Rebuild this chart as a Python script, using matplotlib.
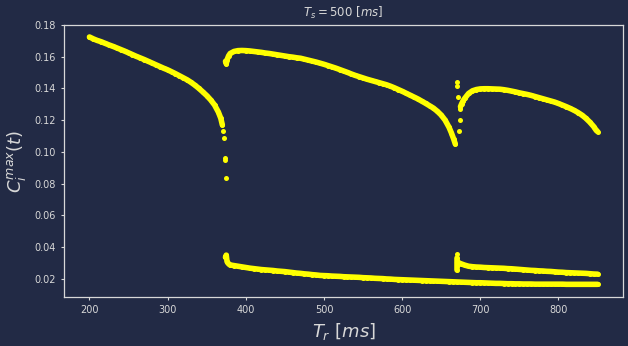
import numpy as np
import matplotlib
matplotlib.use('Agg')
import matplotlib.pyplot as plt

# upper branch before the first jump
tr_a = [200, 205, 210, 215, 220, 225, 230, 235, 240, 245, 250, 255, 260, 265,
        270, 275, 280, 285, 290, 295, 300, 305, 310, 315, 320, 325, 330, 335,
        340, 345, 350, 355, 360, 365, 368, 370, 371, 372, 373, 374, 374.5]
c_a = [0.1724, 0.1712, 0.1702, 0.1694, 0.1684, 0.1674, 0.1665, 0.1655, 0.1645,
       0.1635, 0.1624, 0.1613, 0.1602, 0.1592, 0.1582, 0.1571, 0.1560, 0.1549,
       0.1538, 0.1527, 0.1517, 0.1505, 0.1493, 0.1480, 0.1467, 0.1454, 0.1438,
       0.1420, 0.1400, 0.1378, 0.1355, 0.1328, 0.1296, 0.1250, 0.1212, 0.1170,
       0.1132, 0.1090, 0.0950, 0.0960, 0.0834]

# upper branch between the jumps
tr_b = [374, 375, 376, 378] + list(np.arange(380, 661, 5)) + [663, 666, 668]
c_b = [0.1570, 0.1555, 0.1580, 0.1605,
       0.1620, 0.1633, 0.1638, 0.1639, 0.1638, 0.1636, 0.1633, 0.1630, 0.1627,
       0.1623, 0.1620, 0.1616, 0.1612, 0.1608, 0.1604, 0.1600, 0.1597, 0.1593,
       0.1590, 0.1584, 0.1578, 0.1572, 0.1566, 0.1559, 0.1552, 0.1544, 0.1536,
       0.1528, 0.1519, 0.1510, 0.1501, 0.1491, 0.1482, 0.1474, 0.1466, 0.1458,
       0.1451, 0.1444, 0.1437, 0.1430, 0.1423, 0.1414, 0.1404, 0.1393, 0.1382,
       0.1370, 0.1358, 0.1346, 0.1334, 0.1320, 0.1306, 0.1291, 0.1276, 0.1256,
       0.1232, 0.1200, 0.1155,
       0.1120, 0.1080, 0.1050]

# upper branch after the second jump
tr_c = [669.9, 669.9, 671, 672.5, 673.7, 673.7, 674.6, 676, 678, 680, 685, 690,
        695, 700, 705, 710, 715, 720, 725, 730, 735, 740, 745, 750, 755, 760,
        765, 770, 775, 780, 785, 790, 795, 800, 805, 810, 815, 820, 825, 830,
        835, 840, 845, 848, 850]
c_c = [0.1443, 0.1416, 0.1348, 0.1130, 0.1202, 0.1269, 0.1285, 0.1302, 0.1322,
       0.1337, 0.1368, 0.1385, 0.1393, 0.1397, 0.1398, 0.1398, 0.1397, 0.1396,
       0.1395, 0.1392, 0.1388, 0.1383, 0.1378, 0.1372, 0.1367, 0.1362, 0.1356,
       0.1349, 0.1342, 0.1335, 0.1328, 0.1321, 0.1314, 0.1305, 0.1295, 0.1285,
       0.1274, 0.1262, 0.1248, 0.1232, 0.1212, 0.1188, 0.1160, 0.1138, 0.1128]

# lower branch from the first jump
tr_d = [374, 375, 376, 378] + list(np.arange(380, 851, 5))
c_d = [0.0337, 0.0350, 0.0309, 0.0295,
       0.0288, 0.0284, 0.0280, 0.0276, 0.0272, 0.0268, 0.0265, 0.0262, 0.0259,
       0.0257, 0.0255, 0.0253, 0.0250, 0.0248, 0.0246, 0.0243, 0.0240, 0.0237,
       0.0235, 0.0232, 0.0230, 0.0227, 0.0225, 0.0222, 0.0221, 0.0220, 0.0218,
       0.0217, 0.0216, 0.0214, 0.0213, 0.0212, 0.0211, 0.0210, 0.0208, 0.0207,
       0.0206, 0.0204, 0.0203, 0.0202, 0.0200, 0.0199, 0.0197, 0.0196, 0.0195,
       0.0194, 0.0193, 0.0192, 0.0191, 0.0190, 0.0189, 0.0188, 0.0187, 0.0186,
       0.0185, 0.0184, 0.0183, 0.0182, 0.0181, 0.0180, 0.0179, 0.0178, 0.0177,
       0.0176, 0.0176, 0.0175, 0.0174, 0.0173, 0.0172, 0.0172, 0.0171, 0.0170,
       0.0170, 0.0169, 0.0169, 0.0168, 0.0168, 0.0168, 0.0167, 0.0167, 0.0167,
       0.0167, 0.0167, 0.0167, 0.0167, 0.0167, 0.0166, 0.0166, 0.0166, 0.0166,
       0.0166, 0.0166, 0.0166, 0.0166, 0.0166]

# lower branch from the second jump
tr_e = [669.9, 670, 670, 670, 670, 671, 673, 675, 680, 685, 690, 695, 700, 705,
        710, 715, 720, 725, 730, 735, 740, 745, 750, 755, 760, 765, 770, 775,
        780, 785, 790, 795, 800, 805, 810, 815, 820, 825, 830, 835, 840, 845, 850]
c_e = [0.0357, 0.0330, 0.0310, 0.0280, 0.0257, 0.0305, 0.0300, 0.0296, 0.0287,
       0.0280, 0.0277, 0.0275, 0.0274, 0.0272, 0.0271, 0.0270, 0.0269, 0.0268,
       0.0267, 0.0265, 0.0264, 0.0262, 0.0260, 0.0258, 0.0256, 0.0254, 0.0253,
       0.0251, 0.0250, 0.0248, 0.0247, 0.0245, 0.0243, 0.0242, 0.0240, 0.0239,
       0.0238, 0.0237, 0.0236, 0.0235, 0.0233, 0.0231, 0.0230]

bg = '#222a45'
fg = '#d8d8d8'

tr = np.concatenate([tr_a, tr_b, tr_c, tr_d, tr_e])
cmax = np.concatenate([c_a, c_b, c_c, c_d, c_e])

fig = plt.figure(figsize=(6.28, 3.46), dpi=100, facecolor=bg)
ax = fig.add_axes([0.102, 0.142, 0.890, 0.786], facecolor=bg)

# dense sampling in the original makes the smooth parts look like solid bands
segments = [(tr_a[:36], c_a[:36]), (tr_b, c_b), (tr_c[6:], c_c[6:]),
            (tr_d, c_d), (tr_e[1:5], c_e[1:5]), (tr_e[5:], c_e[5:])]
for xs, ys in segments:
    ax.plot(xs, ys, color='yellow', lw=4.0, solid_capstyle='round',
            solid_joinstyle='round')

ax.scatter(tr, cmax, s=13, color='yellow', linewidths=0, zorder=3)

ax.set_ylim(0.0087, 0.18)
ax.set_xticks([200, 300, 400, 500, 600, 700, 800])
ax.set_yticks([0.02, 0.04, 0.06, 0.08, 0.10, 0.12, 0.14, 0.16, 0.18])
ax.set_title(r'$T_s = 500\ [ms]$', color=fg, fontsize=8.5)
ax.set_xlabel(r'$T_r\ [ms]$', color=fg, fontsize=13)
ax.set_ylabel(r'$C_i^{max}(t)$', color=fg, fontsize=13)
ax.tick_params(colors=fg, labelsize=7, length=2.5, width=0.8)
for sp in ax.spines.values():
    sp.set_color(fg)
    sp.set_linewidth(0.9)

fig.savefig('out.png', dpi=100, facecolor=bg)
